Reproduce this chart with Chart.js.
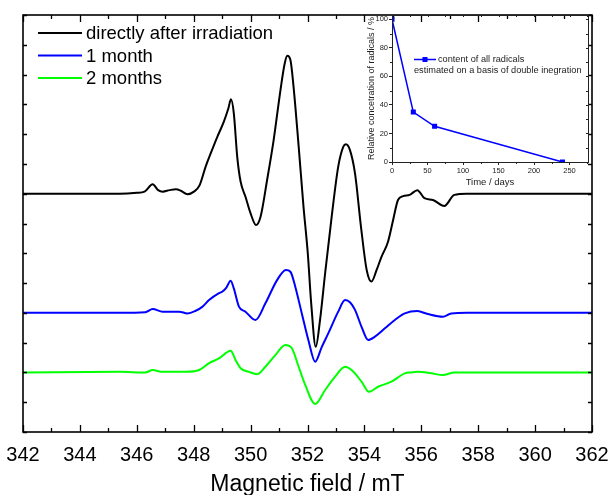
<!DOCTYPE html>
<html><head><meta charset="utf-8">
<script src="https://cdn.jsdelivr.net/npm/chart.js@4.4.1/dist/chart.umd.min.js"></script>
<style>
html,body{margin:0;padding:0;background:#fff;}
#wrap{position:relative;width:608px;height:495px;overflow:hidden;background:#fff;}
#main{position:absolute;left:0;top:0;width:608px;height:495px;}
#inset{position:absolute;left:355px;top:5px;width:240px;height:190px;}
</style></head><body>
<div id="wrap">
<canvas id="main" width="608" height="495"></canvas>
<canvas id="inset" width="240" height="190"></canvas>
</div>
<script>
// ---------- data ----------
const seriesNames = ['directly after irradiation', '1 month', '2 months'];
const seriesColors = ['#000000', '#0000ff', '#00ff00'];
const fieldTicks = [342, 344, 346, 348, 350, 352, 354, 356, 358, 360, 362];

// black: directly after irradiation (offset baseline 8)
const blackField = [342.0, 344.0, 345.4, 346.0, 346.27, 346.56, 346.75, 346.91, 347.15, 347.37, 347.55, 347.78, 348.01, 348.21, 348.42, 348.60, 348.83, 349.06, 349.22, 349.31, 349.41, 349.53, 349.65, 349.82, 350.0, 350.19, 350.35, 350.58, 350.81, 351.05, 351.20, 351.29, 351.40, 351.51, 351.69, 351.86, 352.01, 352.13, 352.29, 352.44, 352.62, 352.85, 353.08, 353.26, 353.35, 353.49, 353.67, 353.88, 354.08, 354.25, 354.43, 354.60, 354.83, 355.01, 355.18, 355.36, 355.59, 355.86, 356.11, 356.41, 356.81, 357.16, 357.6, 358.5, 360.0, 362.0];
const blackSignal = [8.0, 8.0, 8.0, 8.03, 8.07, 8.32, 8.12, 8.07, 8.12, 8.15, 8.1, 7.98, 8.07, 8.29, 8.91, 9.36, 9.91, 10.42, 10.87, 11.17, 10.70, 9.24, 8.40, 7.90, 7.34, 6.95, 7.23, 8.46, 9.80, 11.48, 12.38, 12.63, 12.49, 11.59, 9.58, 7.56, 6.00, 4.32, 2.86, 3.76, 5.33, 7.23, 8.91, 9.58, 9.66, 9.47, 8.68, 6.89, 5.44, 5.05, 5.44, 5.88, 6.39, 7.12, 7.79, 7.92, 7.96, 8.12, 7.85, 7.79, 7.59, 7.96, 8.0, 8.0, 8.0, 8.0];

// blue: 1 month (offset baseline 4)
const blueField = [342.0, 345.4, 346.3, 346.56, 346.91, 347.49, 347.78, 348.07, 348.30, 348.54, 348.89, 349.0, 349.15, 349.30, 349.41, 349.59, 349.82, 350.17, 350.52, 350.93, 351.24, 351.40, 351.57, 351.80, 352.03, 352.27, 352.50, 352.73, 353.08, 353.32, 353.50, 353.67, 353.90, 354.13, 354.37, 354.72, 355.07, 355.42, 355.86, 356.23, 356.76, 357.05, 357.6, 360.0, 362.0];
const blueSignal = [4.0, 4.0, 4.02, 4.13, 4.04, 4.04, 3.98, 4.07, 4.2, 4.43, 4.66, 4.71, 4.85, 5.08, 4.82, 4.21, 4.04, 3.76, 4.32, 5.10, 5.44, 5.38, 4.88, 3.98, 3.09, 2.36, 2.85, 3.31, 4.04, 4.43, 4.35, 4.10, 3.53, 3.09, 3.20, 3.48, 3.76, 3.98, 4.06, 3.96, 3.87, 3.98, 4.0, 4.0, 4.0];

// green: 2 months (offset baseline 2)
const greenField = [342.0, 345.39, 346.3, 346.56, 346.9, 347.72, 348.19, 348.54, 348.89, 349.30, 349.47, 349.65, 349.94, 350.23, 350.52, 350.87, 351.22, 351.45, 351.69, 351.92, 352.27, 352.62, 352.97, 353.32, 353.55, 353.90, 354.16, 354.48, 354.95, 355.42, 355.65, 355.87, 356.35, 356.76, 357.16, 358.0, 362.0];
const greenSignal = [2.0, 2.02, 2.0, 2.08, 2.02, 2.02, 2.08, 2.31, 2.47, 2.73, 2.42, 2.14, 2.02, 1.94, 2.19, 2.58, 2.92, 2.81, 2.19, 1.58, 0.94, 1.41, 1.86, 2.19, 2.08, 1.69, 1.35, 1.52, 1.69, 1.97, 2.0, 2.02, 1.97, 1.91, 2.0, 2.0, 2.0];

// inset
const insetDays = [0, 30, 60, 240];
const insetConc = [100, 35, 25, 0];
const dayTicks = [0, 50, 100, 150, 200, 250];
const concTicks = [0, 20, 40, 60, 80, 100];
const insetLegend = ['content of all radicals', 'estimated on a basis of double inegration'];

// ---------- helpers ----------
const FONT = '"Liberation Sans", Arial, sans-serif';
const zip = (xs, ys) => xs.map((x, i) => ({x: x, y: ys[i]}));

const mainDecor = {
  id: 'mainDecor',
  afterDraw(chart) {
    const ctx = chart.ctx, a = chart.chartArea;
    const xs = chart.scales.x, ys = chart.scales.y;
    ctx.save();
    ctx.strokeStyle = '#000';
    ctx.lineWidth = 1.6;
    ctx.strokeRect(a.left, a.top, a.right - a.left, a.bottom - a.top);
    ctx.lineWidth = 1.3;
    ctx.beginPath();
    for (let v = xs.min; v <= xs.max; v += 1) {
      const px = Math.round(xs.getPixelForValue(v)) + 0.5;
      const len = (v % 2 === 0) ? 7 : 4;
      ctx.moveTo(px, a.bottom); ctx.lineTo(px, a.bottom - len);
      ctx.moveTo(px, a.top); ctx.lineTo(px, a.top + len);
    }
    for (let v = ys.min; v <= ys.max; v += 1) {
      const py = Math.round(ys.getPixelForValue(v)) + 0.5;
      ctx.moveTo(a.left, py); ctx.lineTo(a.left + 4, py);
      ctx.moveTo(a.right, py); ctx.lineTo(a.right - 4, py);
    }
    ctx.stroke();
    // legend
    ctx.font = '18.5px ' + FONT;
    ctx.textBaseline = 'middle';
    ctx.textAlign = 'left';
    chart.data.datasets.forEach((ds, i) => {
      const y = a.top + 18 + i * 22.5;
      ctx.strokeStyle = ds.borderColor;
      ctx.lineWidth = 2;
      ctx.beginPath();
      ctx.moveTo(a.left + 15, y); ctx.lineTo(a.left + 59, y);
      ctx.stroke();
      ctx.fillStyle = '#000';
      ctx.fillText(ds.label, a.left + 63, y + 1);
    });
    ctx.restore();
  }
};

new Chart(document.getElementById('main'), {
  type: 'line',
  data: {
    datasets: [
      {label: seriesNames[0], data: zip(blackField, blackSignal), borderColor: seriesColors[0]},
      {label: seriesNames[1], data: zip(blueField, blueSignal), borderColor: seriesColors[1]},
      {label: seriesNames[2], data: zip(greenField, greenSignal), borderColor: seriesColors[2]}
    ]
  },
  options: {
    responsive: false, animation: false, devicePixelRatio: 1,
    layout: {padding: {left: 0, top: 15, right: 16, bottom: 0}},
    plugins: {legend: {display: false}, tooltip: {enabled: false}},
    elements: {point: {radius: 0}, line: {borderWidth: 2, cubicInterpolationMode: 'monotone', fill: false}},
    scales: {
      x: {
        type: 'linear', min: 342, max: 362,
        afterBuildTicks: s => { s.ticks = fieldTicks.map(v => ({value: v})); },
        grid: {display: false, drawTicks: false}, border: {display: false},
        ticks: {font: {family: FONT, size: 20}, color: '#000', padding: 11, maxRotation: 0, autoSkip: false},
        title: {display: true, text: 'Magnetic field / mT', color: '#000', font: {family: FONT, size: 23, lineHeight: 1}, padding: {top: 0, bottom: -1}},
        afterFit: s => { s.height = 63; s.paddingLeft = 0; s.paddingRight = 0; }
      },
      y: {
        type: 'linear', min: 0, max: 14,
        ticks: {display: false, stepSize: 1},
        grid: {display: false, drawTicks: false}, border: {display: false},
        afterFit: s => { s.width = 23; s.paddingTop = 0; s.paddingBottom = 0; }
      }
    }
  },
  plugins: [mainDecor]
});

const insetDecor = {
  id: 'insetDecor',
  afterDraw(chart) {
    const ctx = chart.ctx, a = chart.chartArea;
    const xs = chart.scales.x, ys = chart.scales.y;
    ctx.save();
    ctx.strokeStyle = '#222';
    ctx.lineWidth = 1;
    ctx.strokeRect(a.left + 0.5, a.top + 0.5, a.right - a.left, a.bottom - a.top);
    ctx.beginPath();
    for (let v = 25; v < xs.max; v += 50) {
      const px = Math.round(xs.getPixelForValue(v)) + 0.5;
      ctx.moveTo(px, a.bottom); ctx.lineTo(px, a.bottom + 2);
    }
    for (let v = 0; v < xs.max; v += 25) {
      const px = Math.round(xs.getPixelForValue(v)) + 0.5;
      ctx.moveTo(px, a.top); ctx.lineTo(px, a.top + 2);
    }
    for (let v = 10; v < ys.max; v += 20) {
      const py = Math.round(ys.getPixelForValue(v)) + 0.5;
      ctx.moveTo(a.left, py); ctx.lineTo(a.left - 2, py);
    }
    for (let v = 0; v < ys.max; v += 10) {
      const py = Math.round(ys.getPixelForValue(v)) + 0.5;
      ctx.moveTo(a.right, py); ctx.lineTo(a.right - 2, py);
    }
    ctx.stroke();
    // legend
    const ly = a.top + 44.5;
    const ds = chart.data.datasets[0];
    ctx.strokeStyle = ds.borderColor;
    ctx.lineWidth = 1.5;
    ctx.beginPath();
    ctx.moveTo(a.left + 22, ly); ctx.lineTo(a.left + 44, ly);
    ctx.stroke();
    ctx.fillStyle = ds.borderColor;
    ctx.fillRect(a.left + 30.5, ly - 2.5, 5, 5);
    ctx.fillStyle = '#222';
    ctx.font = '9.2px ' + FONT;
    ctx.textBaseline = 'middle';
    ctx.textAlign = 'left';
    ctx.fillText(insetLegend[0], a.left + 46, ly);
    ctx.fillText(insetLegend[1], a.left + 22, ly + 10.5);
    ctx.restore();
  }
};

new Chart(document.getElementById('inset'), {
  type: 'line',
  data: {
    datasets: [{
      label: insetLegend[0], data: zip(insetDays, insetConc),
      borderColor: '#0000ff', backgroundColor: '#0000ff', borderWidth: 1.5,
      pointStyle: 'rect', pointRadius: 2.5, tension: 0
    }]
  },
  options: {
    responsive: false, animation: false, devicePixelRatio: 1,
    layout: {padding: {left: 12, top: 10, right: 7, bottom: 0}},
    plugins: {legend: {display: false}, tooltip: {enabled: false}},
    scales: {
      x: {
        type: 'linear', min: 0, max: 276,
        afterBuildTicks: s => { s.ticks = dayTicks.map(v => ({value: v})); },
        grid: {display: true, drawOnChartArea: false, drawTicks: true, tickLength: 3, color: '#222', lineWidth: 1},
        border: {display: false},
        ticks: {font: {family: FONT, size: 7.5}, color: '#222', padding: 1, maxRotation: 0, autoSkip: false},
        title: {display: true, text: 'Time / days', color: '#222', font: {family: FONT, size: 9.5, lineHeight: 1}, padding: {top: 0, bottom: 8}},
        afterFit: s => { s.height = 33; s.paddingLeft = 0; s.paddingRight = 0; }
      },
      y: {
        type: 'linear', min: 0, max: 103,
        afterBuildTicks: s => { s.ticks = concTicks.map(v => ({value: v})); },
        grid: {display: true, drawOnChartArea: false, drawTicks: true, tickLength: 3, color: '#222', lineWidth: 1},
        border: {display: false},
        ticks: {font: {family: FONT, size: 7.5}, color: '#222', padding: 1},
        title: {display: true, text: 'Relative concetration of radicals / %', color: '#222', font: {family: FONT, size: 9, lineHeight: 1}, padding: 0},
        afterFit: s => { s.width = 25; s.paddingTop = 0; s.paddingBottom = 0; }
      }
    }
  },
  plugins: [insetDecor]
});
</script>
</body></html>
